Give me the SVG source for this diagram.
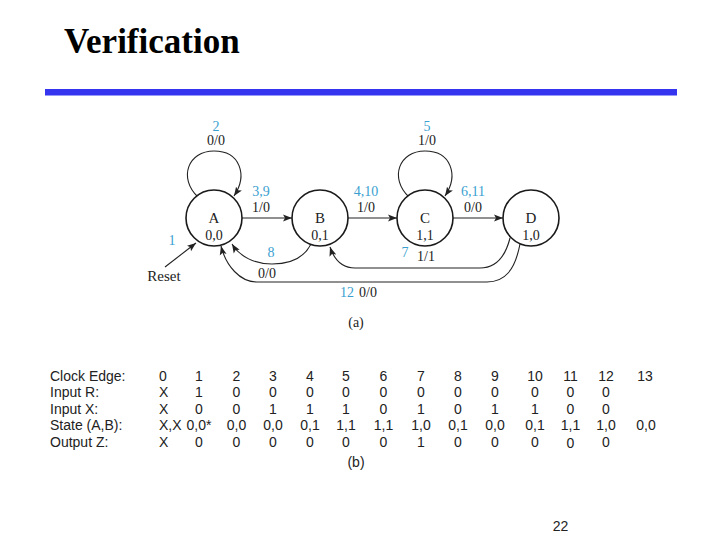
<svg xmlns="http://www.w3.org/2000/svg" width="720" height="540" viewBox="0 0 720 540">
<style>
.title{font-family:"Liberation Serif","Times New Roman",serif;font-weight:bold;font-size:35px;fill:#000}
.st{font-family:"Liberation Serif","Times New Roman",serif;font-size:15px;fill:#222;text-anchor:middle}
.lb{font-family:"Liberation Serif","Times New Roman",serif;font-size:14px;fill:#222;text-anchor:middle}
.bl{font-family:"Liberation Serif","Times New Roman",serif;font-size:14px;fill:#3a9fd0;text-anchor:middle}
.node{fill:#fff;stroke:#1a1a1a;stroke-width:1.6}
.edge{fill:none;stroke:#222;stroke-width:1.1}
.tb{font-family:"Liberation Sans",Arial,sans-serif;font-size:14px;fill:#222}
.tc{font-family:"Liberation Sans",Arial,sans-serif;font-size:14px;fill:#222;text-anchor:middle}
</style>
<defs>
<marker id="ah" markerUnits="userSpaceOnUse" markerWidth="10" markerHeight="8" refX="9" refY="4" orient="auto">
<path d="M0,0.5 L9,4 L0,7.5 L2,4 Z" fill="#222"/>
</marker>
</defs>
<rect width="720" height="540" fill="#fff"/>
<text class="title" x="64" y="53">Verification</text>
<rect x="45" y="89" width="632" height="6.5" fill="#3535f0"/>

<g id="connectors">
<path class="edge" d="M198,197 C178,178 188,151 214,151 C240,151 248,175 234,196" marker-end="url(#ah)"/>
<path class="edge" d="M409,197 C389,178 399,151 425,151 C451,151 459,175 445,196" marker-end="url(#ah)"/>
<path class="edge" d="M242,218 L292,218" marker-end="url(#ah)"/>
<path class="edge" d="M348,218 L397,218" marker-end="url(#ah)"/>
<path class="edge" d="M453,218 L503,218" marker-end="url(#ah)"/>
<path class="edge" d="M165,267 L196,243" marker-end="url(#ah)"/>
<path class="edge" d="M311,244 C303,260 288,264 272,264 C255,264 240,257 232,244" marker-end="url(#ah)"/>
<path class="edge" d="M510,238 C505,258 495,268 480,268 L355,268 C342,268 334,259 330,247" marker-end="url(#ah)"/>
<path class="edge" d="M520,244 C515,270 505,282 487,282 L257,282 C240,282 226,266 221,246" marker-end="url(#ah)"/>
</g>

<g id="A">
<circle class="node" cx="214" cy="218" r="28"/>
<text class="st" x="214" y="223">A</text>
<text class="lb" x="214" y="240">0,0</text>
</g>
<g id="B">
<circle class="node" cx="320" cy="218" r="28"/>
<text class="st" x="320" y="223">B</text>
<text class="lb" x="320" y="240">0,1</text>
</g>
<g id="C">
<circle class="node" cx="425" cy="218" r="28"/>
<text class="st" x="425" y="223">C</text>
<text class="lb" x="425" y="240">1,1</text>
</g>
<g id="D">
<circle class="node" cx="531" cy="218" r="28"/>
<text class="st" x="531" y="223">D</text>
<text class="lb" x="531" y="240">1,0</text>
</g>

<g id="labels">
<text class="bl" x="216" y="131">2</text>
<text class="lb" x="216" y="145">0/0</text>
<text class="bl" x="261" y="196">3,9</text>
<text class="lb" x="261" y="212">1/0</text>
<text class="bl" x="366" y="196">4,10</text>
<text class="lb" x="366" y="212">1/0</text>
<text class="bl" x="427" y="131">5</text>
<text class="lb" x="427" y="145">1/0</text>
<text class="bl" x="473" y="196">6,11</text>
<text class="lb" x="473" y="212">0/0</text>
<text class="bl" x="172" y="245">1</text>
<text class="st" x="164" y="281">Reset</text>
<text class="bl" x="271" y="257">8</text>
<text class="lb" x="267" y="278">0/0</text>
<text class="bl" x="405" y="257">7</text>
<text class="lb" x="426" y="261">1/1</text>
<text class="bl" x="347" y="297">12</text>
<text class="lb" x="368" y="297">0/0</text>
<text class="lb" x="356" y="327">(a)</text>
</g>

<g id="table">
<text class="tb" x="50" y="380.5">Clock Edge:</text>
<text class="tb" x="50" y="397">Input R:</text>
<text class="tb" x="50" y="413.5">Input X:</text>
<text class="tb" x="50" y="430">State (A,B):</text>
<text class="tb" x="50" y="446.5">Output Z:</text>

<text class="tb" x="159" y="380.5">0</text>
<text class="tb" x="159" y="397">X</text>
<text class="tb" x="159" y="413.5">X</text>
<text class="tb" x="159" y="430">X,X</text>
<text class="tb" x="159" y="446.5">X</text>

<text class="tc" x="199" y="380.5">1</text>
<text class="tc" x="199" y="397">1</text>
<text class="tc" x="199" y="413.5">0</text>
<text class="tc" x="199" y="430">0,0*</text>
<text class="tc" x="199" y="446.5">0</text>

<text class="tc" x="236.5" y="380.5">2</text>
<text class="tc" x="236.5" y="397">0</text>
<text class="tc" x="236.5" y="413.5">0</text>
<text class="tc" x="236.5" y="430">0,0</text>
<text class="tc" x="236.5" y="446.5">0</text>

<text class="tc" x="273" y="380.5">3</text>
<text class="tc" x="273" y="397">0</text>
<text class="tc" x="273" y="413.5">1</text>
<text class="tc" x="273" y="430">0,0</text>
<text class="tc" x="273" y="446.5">0</text>

<text class="tc" x="310" y="380.5">4</text>
<text class="tc" x="310" y="397">0</text>
<text class="tc" x="310" y="413.5">1</text>
<text class="tc" x="310" y="430">0,1</text>
<text class="tc" x="310" y="446.5">0</text>

<text class="tc" x="346" y="380.5">5</text>
<text class="tc" x="346" y="397">0</text>
<text class="tc" x="346" y="413.5">1</text>
<text class="tc" x="346" y="430">1,1</text>
<text class="tc" x="346" y="446.5">0</text>

<text class="tc" x="383.5" y="380.5">6</text>
<text class="tc" x="383.5" y="397">0</text>
<text class="tc" x="383.5" y="413.5">0</text>
<text class="tc" x="383.5" y="430">1,1</text>
<text class="tc" x="383.5" y="446.5">0</text>

<text class="tc" x="421" y="380.5">7</text>
<text class="tc" x="421" y="397">0</text>
<text class="tc" x="421" y="413.5">1</text>
<text class="tc" x="421" y="430">1,0</text>
<text class="tc" x="421" y="446.5">1</text>

<text class="tc" x="458" y="380.5">8</text>
<text class="tc" x="458" y="397">0</text>
<text class="tc" x="458" y="413.5">0</text>
<text class="tc" x="458" y="430">0,1</text>
<text class="tc" x="458" y="446.5">0</text>

<text class="tc" x="495" y="380.5">9</text>
<text class="tc" x="495" y="397">0</text>
<text class="tc" x="495" y="413.5">1</text>
<text class="tc" x="495" y="430">0,0</text>
<text class="tc" x="495" y="446.5">0</text>

<text class="tc" x="535" y="380.5">10</text>
<text class="tc" x="535" y="397">0</text>
<text class="tc" x="535" y="413.5">1</text>
<text class="tc" x="535" y="430">0,1</text>
<text class="tc" x="535" y="446.5">0</text>

<text class="tc" x="570.5" y="380.5">11</text>
<text class="tc" x="570.5" y="397">0</text>
<text class="tc" x="570.5" y="413.5">0</text>
<text class="tc" x="570.5" y="430">1,1</text>
<text class="tc" x="570.5" y="448">0</text>

<text class="tc" x="606" y="380.5">12</text>
<text class="tc" x="606" y="397">0</text>
<text class="tc" x="606" y="413.5">0</text>
<text class="tc" x="606" y="430">1,0</text>
<text class="tc" x="606" y="446.5">0</text>

<text class="tc" x="645" y="380.5">13</text>
<text class="tc" x="646" y="430">0,0</text>

<text class="tc" x="356" y="467">(b)</text>
</g>

<text class="tc" x="560.5" y="531">22</text>
</svg>
